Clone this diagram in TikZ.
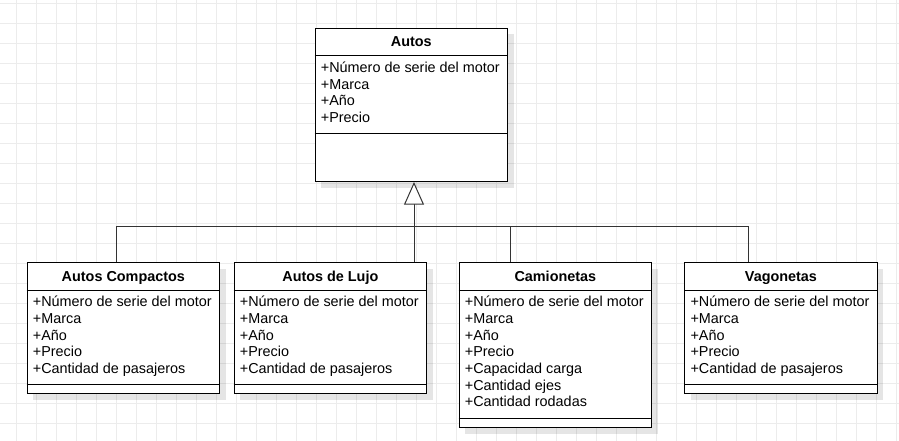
\documentclass[tikz,border=0pt]{standalone}
\usepackage{fontspec}
\setmainfont{Liberation Sans}
\usetikzlibrary{arrows.meta,shadows}
\definecolor{gridc}{RGB}{236,236,236}
\definecolor{connc}{RGB}{51,51,51}
\newcommand{\umlbox}[7]{%
  \node[classbox, minimum height=#4pt, anchor=north west] (#1) at (#2,#3) {};
  \draw[classline] ([yshift=-28pt]#1.north west) -- ([yshift=-28pt]#1.north east);
  \draw[classline] ([yshift=#5pt]#1.south west) -- ([yshift=#5pt]#1.south east);
  \node[titletext] (#1-title) at ([yshift=-19pt]#1.north) {#6};
  \foreach \a [count=\i] in {#7} {
    \node[attrtext] (#1-a\i) at ([xshift=6pt, yshift={-(28pt+16.7pt*\i)}]#1.north west) {\a};
  }%
}
\begin{document}
\begin{tikzpicture}[x=1pt,y=-1pt,
  classbox/.style={draw=black, line width=1pt, fill=white, minimum width=192.3pt, inner sep=0pt,
    drop shadow={shadow xshift=6pt, shadow yshift=-6pt, fill=black, opacity=0.1}},
  classline/.style={draw=black, line width=1pt},
  titletext/.style={anchor=base, inner sep=0pt, font=\fontsize{14.4pt}{16.7pt}\selectfont\bfseries},
  attrtext/.style={anchor=base west, inner sep=0pt, font=\fontsize{14.4pt}{16.7pt}\selectfont},
  conn/.style={draw=connc, line width=1pt},
  gridline/.style={draw=gridc, line width=1pt}]
\useasboundingbox (0,0) rectangle (899,441);
\fill[white] (0,0) rectangle (899,441);
\foreach \x in {16.5,36.5,...,896.5} \draw[gridline] (\x,0) -- (\x,441);
\foreach \y in {3.3,23.3,...,440} \draw[gridline] (0,\y) -- (899,\y);

\umlbox{autos}{314.7}{27.7}{153.3}{48.3}{Autos}{+Número de serie del motor,+Marca,+Año,+Precio}
\umlbox{cc}{26.7}{262}{131.3}{10}{Autos Compactos}{+Número de serie del motor,+Marca,+Año,+Precio,+Cantidad de pasajeros}
\umlbox{lujo}{233.7}{262}{131.3}{10}{Autos de Lujo}{+Número de serie del motor,+Marca,+Año,+Precio,+Cantidad de pasajeros}
\umlbox{cam}{458.7}{262}{165.3}{10}{Camionetas}{+Número de serie del motor,+Marca,+Año,+Precio,+Capacidad carga,+Cantidad ejes,+Cantidad rodadas}
\umlbox{vag}{684.3}{262}{131.3}{10}{Vagonetas}{+Número de serie del motor,+Marca,+Año,+Precio,+Cantidad de pasajeros}

\coordinate (junc) at (414,226);
\draw[conn] (junc) -| ([xshift=90pt]cc.north west);
\draw[conn] (junc) -- ([xshift=180.3pt]lujo.north west);
\draw[conn] (junc) -| ([xshift=51.3pt]cam.north west);
\draw[conn] (junc) -| ([xshift=64pt]vag.north west);
\draw[conn, -{Triangle[fill=white, length=22.7pt, width=20pt]}] (junc) -- (junc |- autos.south);
\end{tikzpicture}
\end{document}
